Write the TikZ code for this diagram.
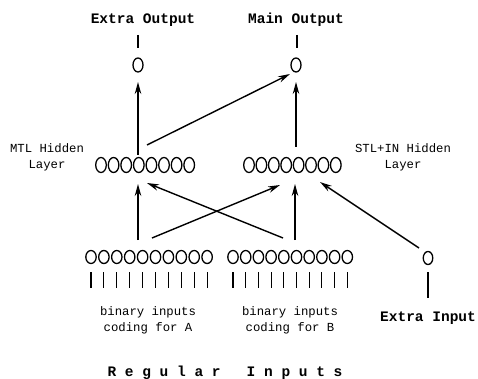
\documentclass[tikz,border=0pt]{standalone}
\usepackage{fontspec}
\setmonofont{Liberation Mono}
\usetikzlibrary{arrows.meta,shapes.geometric}
\begin{document}
\begin{tikzpicture}[x=1pt,y=-1pt,
  unit/.style={draw, ellipse, line width=1.3pt, minimum width=10pt, minimum height=13pt, inner sep=0pt},
  arr/.style={line width=1.4pt, -{Stealth[length=12pt,width=6.5pt]}},
  wire/.style={line width=1.1pt},
  bigbold/.style={font=\fontsize{14.5}{16}\selectfont\ttfamily\bfseries, inner sep=0pt},
  small/.style={font=\fontsize{12.3}{16}\selectfont\ttfamily, align=center, inner sep=0pt}]
\useasboundingbox (0,0) rectangle (478,379);
% labels
\node[bigbold] (lEO) at (143,20) {Extra Output};
\node[bigbold] (lMO) at (296,20) {Main Output};
\node[small] (lMTL) at (47,157) {MTL Hidden\\Layer};
\node[small] (lSTL) at (403,157) {STL+IN Hidden\\Layer};
\node[small] (lA) at (148,320) {binary inputs\\coding for A};
\node[small] (lB) at (290,320) {binary inputs\\coding for B};
\node[bigbold] (lEI) at (428,318) {Extra Input};
\node[bigbold] (lRI) at (225,373) {R\ e\ g\ u\ l\ a\ r\ \ \ I\ n\ p\ u\ t\ s};
% output units
\node[unit, minimum width=10pt, minimum height=14pt] (oE) at (138,65) {};
\node[unit, minimum width=10pt, minimum height=14pt] (oM) at (296,65) {};
\coordinate (oEt) at (138,35); \coordinate (oEb) at (138,48);
\coordinate (oMt) at (297,35); \coordinate (oMb) at (297,48);
\draw[wire] (oEt) -- (oEb);
\draw[wire] (oMt) -- (oMb);
% hidden units
\foreach \k in {0,...,7} {
  \node[unit, minimum width=10.6pt, minimum height=15pt] (hA\k) at (101+12.6*\k,165) {};
  \node[unit, minimum width=10.6pt, minimum height=15pt] (hB\k) at (249+12.4*\k,165) {};
}
% input units
\foreach \k in {0,...,9} {
  \node[unit, minimum width=10.4pt] (iA\k) at (91+12.9*\k,257) {};
  \node[unit, minimum width=10.4pt] (iB\k) at (233+12.7*\k,257) {};
  \draw[wire] (91+12.9*\k,272) -- (91+12.9*\k,288);
  \draw[wire] (233+12.7*\k,272) -- (233+12.7*\k,288);
}
\node[unit, minimum width=9.5pt] (iX) at (428,258) {};
\coordinate (iXt) at (428,272); \coordinate (iXb) at (428,298);
\draw[wire] (iXt) -- (iXb);
% arrow ends
\coordinate (tEO) at (138,82); \coordinate (tMO) at (296,82);
\coordinate (tMOd) at (290,74);
\coordinate (sHA) at (138,155); \coordinate (sHAd) at (147,145);
\coordinate (sHB) at (296,147);
\coordinate (tHA) at (138,184); \coordinate (tHAd) at (147,183);
\coordinate (tHB) at (295,184); \coordinate (tHBd) at (280,185);
\coordinate (tHBx) at (320,182);
\coordinate (sIA) at (138,240); \coordinate (sIAd) at (152,238);
\coordinate (sIB) at (295,240); \coordinate (sIBd) at (283,238);
\coordinate (sIX) at (419,248);
% connections
\draw[arr] (sHA) -- (tEO);
\draw[arr] (sHAd) -- (tMOd);
\draw[arr] (sHB) -- (tMO);
\draw[arr] (sIA) -- (tHA);
\draw[arr] (sIAd) -- (tHBd);
\draw[arr] (sIBd) -- (tHAd);
\draw[arr] (sIB) -- (tHB);
\draw[arr] (sIX) -- (tHBx);
\end{tikzpicture}
\end{document}
